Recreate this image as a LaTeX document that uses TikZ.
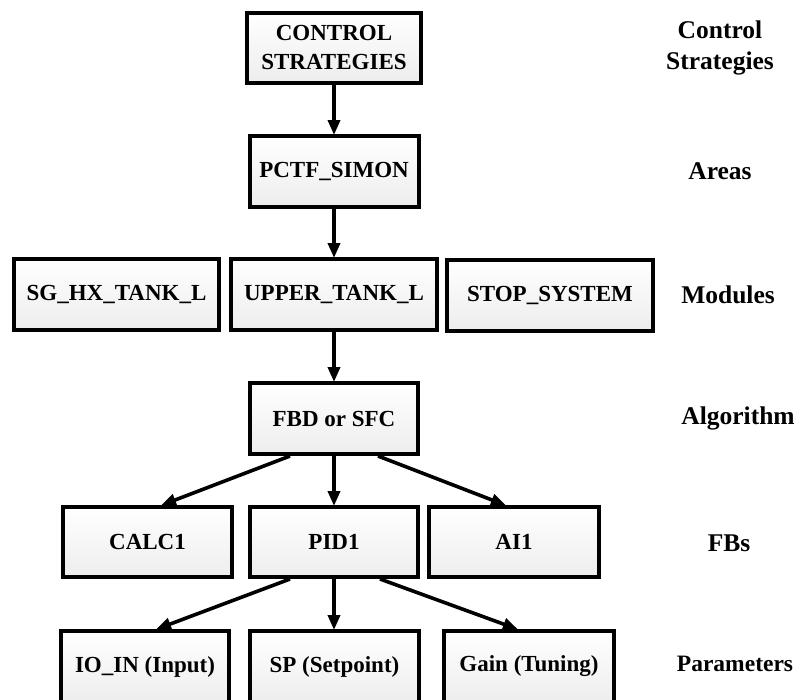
\documentclass[tikz,border=0pt]{standalone}
\usepackage{fontspec}
\setmainfont{Liberation Serif}
\usetikzlibrary{arrows.meta,shadows,calc}

\tikzset{
  blk/.style={draw=black, line width=4pt, rectangle, inner sep=0pt,
    top color=white, bottom color=black!7,
    drop shadow={shadow xshift=1.6pt, shadow yshift=-1.6pt, opacity=0.35, fill=black!40},
    minimum height=70pt, align=center,
    font=\fontsize{23}{29}\selectfont\bfseries},
  layer/.style={inner sep=0pt, align=center,
    font=\fontsize{25.5}{31}\selectfont\bfseries},
  link/.style={line width=3.6pt, -{Triangle[length=15pt,width=12pt]}, shorten >=-1pt}
}

\begin{document}
\begin{tikzpicture}[x=1pt, y=-1pt]
  \useasboundingbox (0,0) rectangle (800,699);
  \clip (0,0) rectangle (800,699);

  % hierarchy boxes
  \node[blk, minimum width=174pt] (cs)    at (334,47.5)  {CONTROL\\STRATEGIES};
  \node[blk, minimum width=169pt, minimum height=71pt] (area) at (334,171.5) {PCTF\_SIMON};

  \node[blk, minimum width=205pt, minimum height=71pt] (sg)    at (116.5,294.5) {SG\_HX\_TANK\_L};
  \node[blk, minimum width=206pt, minimum height=71pt] (upper) at (334,294.5)   {UPPER\_TANK\_L};
  \node[blk, minimum width=206pt, minimum height=71pt] (stop)  at (550,295)     {STOP\_SYSTEM};

  \node[blk, minimum width=168pt, minimum height=71pt] (fbd) at (334,418.5) {FBD or SFC};

  \node[blk, minimum width=169pt] (calc) at (147.5,542) {CALC1};
  \node[blk, minimum width=168pt] (pid)  at (334,542)   {PID1};
  \node[blk, minimum width=170pt] (ai)   at (514,542)   {AI1};

  \node[blk, minimum width=168pt, minimum height=71pt] (io)   at (145,666.5) {IO\_IN (Input)};
  \node[blk, minimum width=169pt, minimum height=71pt] (sp)   at (334.5,666.5) {SP (Setpoint)};
  \node[blk, minimum width=170pt, minimum height=71pt] (gain) at (529,666.5) {Gain (Tuning)};

  % level names
  \node[layer] (lcs)   at (720,48)  {Control\\Strategies};
  \node[layer] (larea) at (720,171) {Areas};
  \node[layer] (lmod)  at (728,295) {Modules};
  \node[layer] (lalg)  at (738,418) {Algorithm};
  \node[layer] (lfb)   at (729,543) {FBs};
  \node[layer, font=\fontsize{23.5}{29}\selectfont\bfseries] (lpar) at (735,664) {Parameters};

  % connectors
  \draw[link] (cs.south) -- (area.north);
  \draw[link] (area.south) -- (upper.north);
  \draw[link] (upper.south) -- (fbd.north);

  \draw[link] ($(fbd.south)+(-44,0)$) -- ($(calc.north)+(14.5,0)$);
  \draw[link] (fbd.south) -- (pid.north);
  \draw[link] ($(fbd.south)+(44,0)$) -- ($(ai.north)+(-9,0)$);

  \draw[link] ($(pid.south)+(-44,0)$) -- ($(io.north)+(12,0)$);
  \draw[link] (pid.south) -- (pid.south |- sp.north);
  \draw[link] ($(pid.south)+(46,0)$) -- ($(gain.north)+(-12,0)$);
\end{tikzpicture}
\end{document}
